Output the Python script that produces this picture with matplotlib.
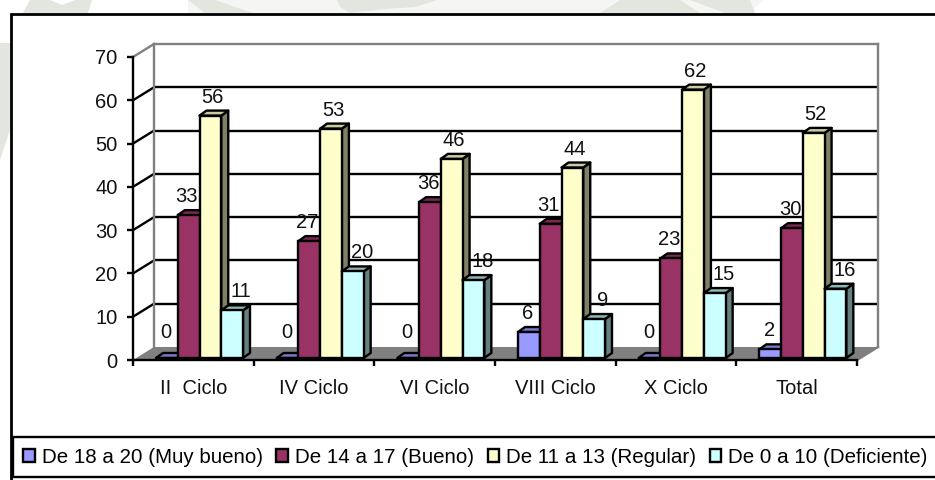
import matplotlib
matplotlib.use("Agg")
import matplotlib.pyplot as plt
from matplotlib.patches import Polygon, Patch, Rectangle

plt.rcParams['font.family'] = ['Liberation Sans', 'DejaVu Sans']

categories = ["II  Ciclo", "IV Ciclo", "VI Ciclo", "VIII Ciclo", "X Ciclo", "Total"]
muy_bueno = [0, 0, 0, 6, 0, 2]
bueno = [33, 27, 36, 31, 23, 30]
regular = [56, 53, 46, 44, 62, 52]
deficiente = [11, 20, 18, 9, 15, 16]
series_names = ["De 18 a 20 (Muy bueno)", "De 14 a 17 (Bueno)", "De 11 a 13 (Regular)", "De 0 a 10 (Deficiente)"]
face = ["#9999FF", "#993366", "#FFFFCC", "#CCFFFF"]
top_c = ["#7A7ACC", "#7A2952", "#CCCCA3", "#8FB8B8"]
side_c = ["#66669A", "#4D1A33", "#808066", "#668080"]
y_ticks = [0, 10, 20, 30, 40, 50, 60, 70]
label_shift = [-1, -2, 2, 9]

W, H = 935, 480
fig = plt.figure(figsize=(W/100, H/100), dpi=100, facecolor="white")

# faint background
bg = fig.add_axes([0, 0, 1, 1], zorder=0)
bg.set_xlim(0, W); bg.set_ylim(H, 0); bg.axis("off")
bg.add_patch(Polygon([(188, 0), (763, 0), (750, 13), (188, 13)], closed=True, fc="#F5F6F3", ec="none"))
wm = "#E2E6DF"
for pts in [[(30, 0), (50, 0), (62, 5), (75, 0), (92, 0), (88, 13), (23, 13)],
            [(188, 0), (215, 0), (253, 13), (205, 13)],
            [(337, 0), (437, 0), (415, 7), (385, 9), (350, 13), (340, 7)],
            [(600, 13), (620, 0), (680, 0), (700, 13)], [(690, 0), (750, 0), (755, 13), (725, 13)],
            [(0, 43), (10, 43), (10, 130), (0, 160)]]:
    bg.add_patch(Polygon(pts, closed=True, fc=wm, ec="none"))
bg.add_patch(Rectangle((10.5, 13.5), W, H, fc="white", ec="black", lw=2.0))

L, R, B, T = 133, 857, 360, 57
ax = fig.add_axes([L/W, 1-B/H, (R-L)/W, (B-T)/H], zorder=2)
ax.patch.set_alpha(0)
ax.set_xlim(0, len(categories))
ax.set_ylim(0, 70)
px = len(categories)/(R-L)      # data x per pixel
py = 70/(B-T)                   # data y per pixel
wall_dx, wall_dy = 21*px, 13*py
lw = 1.7

# floor and walls
n = len(categories)
ax.add_patch(Polygon([(0, 0), (n, 0), (n+wall_dx, wall_dy), (wall_dx, wall_dy)], closed=True,
                     fc="#808080", ec="none", clip_on=False, zorder=1))
for v in y_ticks[1:-1]:
    ax.plot([wall_dx, n+wall_dx], [v+wall_dy]*2, color="black", lw=lw, clip_on=False, zorder=1.5, solid_capstyle="butt")
    ax.plot([0, wall_dx], [v, v+wall_dy], color="black", lw=lw, clip_on=False, zorder=1.5)
ax.plot([wall_dx, wall_dx], [wall_dy, 70+wall_dy], color="#808080", lw=lw, clip_on=False, zorder=1.6)
ax.plot([n+wall_dx, n+wall_dx], [wall_dy, 70+wall_dy], color="#808080", lw=lw, clip_on=False, zorder=1.6)
ax.plot([wall_dx, n+wall_dx], [70+wall_dy]*2, color="#808080", lw=lw, clip_on=False, zorder=1.6)
ax.plot([0, wall_dx], [70, 70+wall_dy], color="#808080", lw=lw, clip_on=False, zorder=1.6)
ax.plot([n, n+wall_dx], [0, wall_dy], color="#808080", lw=lw, clip_on=False, zorder=1.6)

# bars
bw = 21.75*px
start = 23*px
dep_x, dep_y = 7*px, 5*py
base = 2*py
series = [muy_bueno, bueno, regular, deficiente]
z = 2
for i in range(n):
    for s, vals in enumerate(series):
        x0 = i + start + s*bw
        top = base + vals[i]
        x1 = x0 + bw
        ax.add_patch(Polygon([(x1, base), (x1+dep_x, base+dep_y), (x1+dep_x, top+dep_y), (x1, top)], closed=True,
                             fc=side_c[s], ec="black", lw=lw, clip_on=False, zorder=z, joinstyle="round"))
        ax.add_patch(Polygon([(x0, top), (x0+dep_x, top+dep_y), (x1+dep_x, top+dep_y), (x1, top)], closed=True,
                             fc=top_c[s], ec="black", lw=lw, clip_on=False, zorder=z, joinstyle="round"))
        ax.bar(x0, vals[i], bottom=base, width=bw, align="edge", color=face[s], edgecolor="black", lw=lw, clip_on=False, zorder=z+0.1)
        z += 0.2
        off = 25 if vals[i] == 0 else 18.5
        ax.annotate(str(vals[i]), (x0+bw/2, top), xytext=(label_shift[s]*0.72, off*0.72), textcoords="offset points",
                    ha="center", va="center", fontsize=14.5, color="#111111", zorder=50, annotation_clip=False)

# axes
for s in ("top", "right"):
    ax.spines[s].set_visible(False)
for s in ("left", "bottom"):
    ax.spines[s].set_linewidth(lw)
    ax.spines[s].set_zorder(40)
ax.set_yticks(y_ticks)
ax.set_xticks(range(n+1))
ax.set_xticklabels([])
ax.set_xticks([i+0.5 for i in range(n)], minor=True)
ax.set_xticklabels(categories, minor=True, fontsize=14.5, color="#111111")
ax.tick_params(axis="x", which="minor", length=0, pad=14)
ax.tick_params(axis="x", which="major", length=4.5, width=lw)
ax.tick_params(axis="y", length=4.5, width=lw, pad=6.5, labelsize=14.5, labelcolor="#111111")

# legend
handles = [Patch(fc=f, ec="black", lw=lw) for f in face]
leg = fig.legend(handles, series_names, ncol=4, mode="expand", loc="lower left",
                 bbox_to_anchor=(13/W, 3/H, (W-10)/W, 38/H), borderaxespad=0, borderpad=0.5,
                 handlelength=0.55, handleheight=0.55, handletextpad=0.35, columnspacing=0.5,
                 fontsize=14.8, fancybox=False, framealpha=1, edgecolor="black")
leg.get_frame().set_linewidth(lw)
leg.set_zorder(10)

fig.savefig("out.png", dpi=100)
